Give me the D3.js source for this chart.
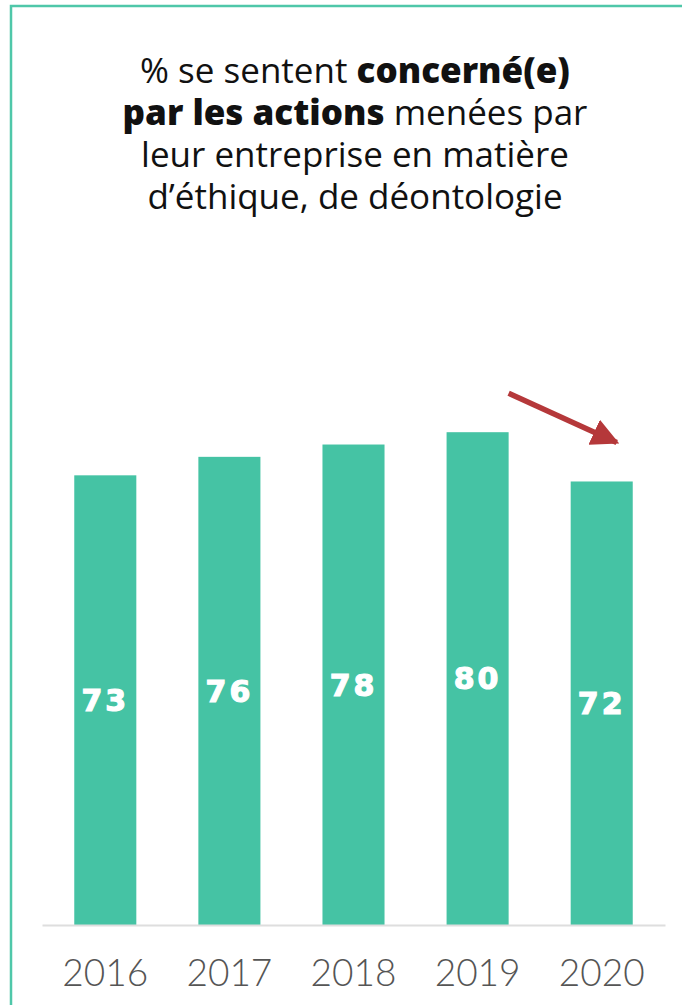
<!doctype html>
<html>
<head>
<meta charset="utf-8">
<script src="https://d3js.org/d3.v7.min.js"></script>
<style>
  body { margin: 0; background: #fff; }
</style>
</head>
<body>
<script>
// data
var years = ["2016", "2017", "2018", "2019", "2020"];
var values = [73, 76, 78, 80, 72];
var titleLines = [
  [["% se sentent ", false], ["concerné(e)", true]],
  [["par les actions", true], [" menées par", false]],
  [["leur entreprise en matière", false]],
  [["d’éthique, de déontologie", false]]
];

var W = 682, H = 1005;
var teal = "#45c3a4";

var svg = d3.select("body").append("svg")
  .attr("width", W)
  .attr("height", H);

// frame
svg.append("rect")
  .attr("x", 11).attr("y", 6)
  .attr("width", W + 20).attr("height", H + 20)
  .attr("fill", "none")
  .attr("stroke", "#4fc7a9")
  .attr("stroke-width", 2.5);

// title
var title = svg.append("text")
  .attr("text-anchor", "middle")
  .attr("font-family", "Open Sans")
  .attr("font-size", 35)
  .attr("fill", "#111");
titleLines.forEach(function(line, i) {
  var t = title.append("tspan").attr("x", 355).attr("y", 83 + i * 42);
  line.forEach(function(p, j) {
    var s = j == 0 ? t : title.append("tspan");
    s.text(p[0]).attr("font-weight", p[1] ? 800 : 400);
  });
});

// scales
var x = d3.scaleBand()
  .domain(years)
  .range([42, 665])
  .paddingInner(0.5)
  .paddingOuter(0.26);

var y = d3.scaleLinear()
  .domain([0, 100])
  .range([925, 309]);

// bars
svg.selectAll(".bar")
  .data(years)
  .enter().append("rect")
  .attr("class", "bar")
  .attr("x", d => x(d))
  .attr("width", x.bandwidth())
  .attr("y", (d, i) => y(values[i]))
  .attr("height", (d, i) => y(0) - y(values[i]))
  .attr("fill", teal);

// values in bars
svg.selectAll(".val")
  .data(years)
  .enter().append("text")
  .attr("class", "val")
  .attr("x", d => x(d) + x.bandwidth() / 2)
  .attr("y", (d, i) => (y(values[i]) + y(0)) / 2)
  .attr("dy", "0.36em")
  .attr("text-anchor", "middle")
  .attr("font-family", "DejaVu Sans")
  .attr("font-weight", "bold")
  .attr("font-size", 30)
  .attr("letter-spacing", 3)
  .attr("stroke", "#fff")
  .attr("stroke-width", 1.2)
  .attr("fill", "#fff")
  .text((d, i) => values[i]);

// x axis
var xAxis = d3.axisBottom(x).tickSize(0).tickPadding(35);
var gx = svg.append("g")
  .attr("transform", "translate(0," + y(0) + ")")
  .call(xAxis);
gx.select(".domain").attr("stroke", "#dedede").attr("stroke-width", 2);
gx.selectAll("text")
  .attr("font-family", "Lato")
  .attr("font-weight", 300)
  .attr("font-size", 37)
  .attr("fill", "#555");

// arrow showing the drop
var defs = svg.append("defs");
defs.append("marker")
  .attr("id", "head")
  .attr("viewBox", "0 0 10 10")
  .attr("refX", 9).attr("refY", 5)
  .attr("markerWidth", 5).attr("markerHeight", 5)
  .attr("orient", "auto")
  .append("path")
  .attr("d", "M0,0 L10,5 L0,10 z")
  .attr("fill", "#b5383a");

svg.append("line")
  .attr("x1", x("2019") + x.bandwidth())
  .attr("y1", y(values[3]) - 39)
  .attr("x2", x("2020") + x.bandwidth() / 2 + 15)
  .attr("y2", y(values[4]) - 39)
  .attr("stroke", "#b5383a")
  .attr("stroke-width", 5.5)
  .attr("marker-end", "url(#head)");
</script>
</body>
</html>
